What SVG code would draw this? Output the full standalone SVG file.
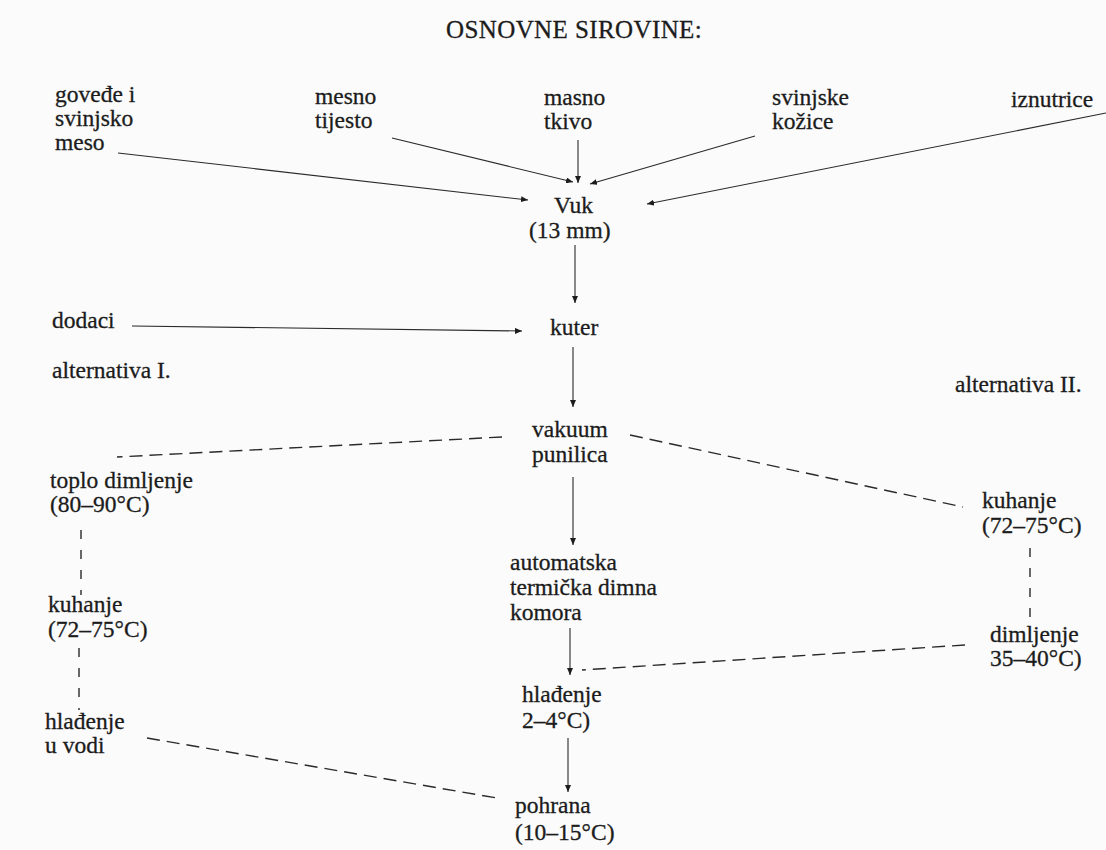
<svg xmlns="http://www.w3.org/2000/svg" width="1106" height="850" viewBox="0 0 1106 850">
<style>
text{font-family:"Liberation Serif","Times New Roman",serif;font-size:23.5px;fill:#1c1c1c;stroke:#1c1c1c;stroke-width:0.3}
.title{font-size:25px;letter-spacing:0.4px}
.arr{stroke:#2a2a2a;stroke-width:1.1;fill:none;marker-end:url(#ah)}
.dash{stroke:#2a2a2a;stroke-width:1.4;fill:none;stroke-dasharray:13 7}
.vdash{stroke:#2a2a2a;stroke-width:1.4;fill:none;stroke-dasharray:9 11}
</style>
<defs>
<marker id="ah" markerUnits="userSpaceOnUse" markerWidth="8" markerHeight="6" refX="7" refY="3" orient="auto">
<path d="M0,0 L7,3 L0,6 z" fill="#1c1c1c"/>
</marker>
</defs>
<rect x="0" y="0" width="1106" height="850" fill="#fbfbfb"/>
<g id="title"><text class="title" x="446" y="38">OSNOVNE SIROVINE:</text></g>
<g id="n-govede"><text x="55" y="102">goveđe i<tspan x="55" dy="24">svinjsko</tspan><tspan x="55" dy="24">meso</tspan></text></g>
<g id="n-mesno"><text x="315" y="104">mesno<tspan x="315" dy="24">tijesto</tspan></text></g>
<g id="n-masno"><text x="544" y="105">masno<tspan x="544" dy="24">tkivo</tspan></text></g>
<g id="n-svinjske"><text x="772" y="105">svinjske<tspan x="772" dy="24">kožice</tspan></text></g>
<g id="n-iznutrice"><text x="1011" y="107">iznutrice</text></g>
<g id="n-vuk"><text x="554" y="213">Vuk<tspan x="529" dy="25">(13 mm)</tspan></text></g>
<g id="n-dodaci"><text x="52" y="328">dodaci</text></g>
<g id="n-kuter"><text x="550" y="335">kuter</text></g>
<g id="n-alt1"><text x="52" y="378">alternativa I.</text></g>
<g id="n-alt2"><text x="955" y="392">alternativa II.</text></g>
<g id="n-vakuum"><text x="532" y="437">vakuum<tspan x="532" dy="25">punilica</tspan></text></g>
<g id="n-toplo"><text x="50" y="488">toplo dimljenje<tspan x="50" dy="24">(80–90°C)</tspan></text></g>
<g id="n-kuhanje2"><text x="982" y="508">kuhanje<tspan x="982" dy="25">(72–75°C)</tspan></text></g>
<g id="n-automatska"><text x="510" y="570">automatska<tspan x="510" dy="25">termička dimna</tspan><tspan x="510" dy="25">komora</tspan></text></g>
<g id="n-kuhanje1"><text x="48" y="612">kuhanje<tspan x="48" dy="25">(72–75°C)</tspan></text></g>
<g id="n-dimljenje"><text x="990" y="642">dimljenje<tspan x="990" dy="24">35–40°C)</tspan></text></g>
<g id="n-hladenje"><text x="522" y="702">hlađenje<tspan x="522" dy="26">2–4°C)</tspan></text></g>
<g id="n-hladenjevoda"><text x="45" y="729">hlađenje<tspan x="45" dy="24">u vodi</tspan></text></g>
<g id="n-pohrana"><text x="515" y="813">pohrana<tspan x="515" dy="27">(10–15°C)</tspan></text></g>
<g id="connectors">
<line class="arr" x1="118" y1="153" x2="528" y2="200"/>
<line class="arr" x1="392" y1="138" x2="573" y2="182"/>
<line class="arr" x1="578" y1="140" x2="578" y2="183"/>
<line class="arr" x1="755" y1="136" x2="590" y2="184"/>
<line class="arr" x1="1106" y1="113" x2="647" y2="204"/>
<line class="arr" x1="575" y1="245" x2="575" y2="303"/>
<line class="arr" x1="132" y1="326" x2="522" y2="331"/>
<line class="arr" x1="573" y1="347" x2="573" y2="407"/>
<line class="arr" x1="573" y1="477" x2="573" y2="545"/>
<line class="arr" x1="570" y1="628" x2="570" y2="675"/>
<line class="arr" x1="568" y1="738" x2="568" y2="792"/>
<line class="dash" x1="502" y1="437" x2="117" y2="457"/>
<line class="dash" x1="630" y1="435" x2="963" y2="507"/>
<line class="vdash" x1="81" y1="530" x2="81" y2="595"/>
<line class="vdash" x1="79" y1="648" x2="79" y2="710"/>
<line class="dash" x1="147" y1="738" x2="497" y2="798"/>
<line class="vdash" x1="1030" y1="548" x2="1030" y2="618"/>
<line class="dash" x1="965" y1="645" x2="582" y2="670"/>
</g>
</svg>
